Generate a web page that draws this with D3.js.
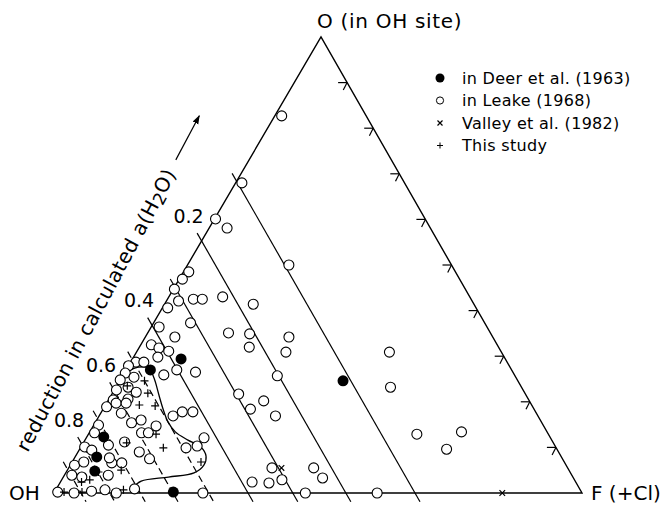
<!DOCTYPE html>
<html>
<head>
<meta charset="utf-8">
<script src="https://cdn.jsdelivr.net/npm/d3@7"></script>
<style>
  html, body { margin: 0; padding: 0; background: #fff; }
  svg text { font-family: "DejaVu Sans", sans-serif; fill: #000; }
</style>
</head>
<body>
<svg id="chart" width="664" height="509"></svg>
<script>
// ternary values as [F(+Cl) fraction, O fraction]; OH fraction = 1 - F - O
const leakeData = [
  [0.013, 0.827], [0.012, 0.680], [0.002, 0.601], [0.034, 0.581], [0.192, 0.500],
  [0.010, 0.485], [0.006, 0.469], [0.002, 0.447], [0.023, 0.421], [0.010, 0.406],
  [0.049, 0.425], [0.066, 0.425], [0.102, 0.430], [0.168, 0.414], [0.070, 0.373],
  [0.015, 0.364], [0.153, 0.351], [0.194, 0.349], [0.208, 0.320], [0.272, 0.342],
  [0.283, 0.309], [0.056, 0.342], [0.020, 0.325], [0.038, 0.318], [0.060, 0.311],
  [0.046, 0.298], [0.096, 0.270], [0.134, 0.265], [0.077, 0.259], [0.293, 0.257],
  [0.479, 0.309], [0.520, 0.232], [0.240, 0.217], [0.295, 0.202], [0.279, 0.184],
  [0.334, 0.169], [0.622, 0.129], [0.704, 0.134], [0.695, 0.096], [0.140, 0.169],
  [0.153, 0.178], [0.173, 0.178], [0.223, 0.121], [0.385, 0.055], [0.363, 0.024],
  [0.396, 0.022], [0.417, 0.029], [0.464, 0.055], [0.492, 0.033], [0.476, 0.000],
  [0.612, 0.000], [0.282, 0.000], [0.200, 0.099], [0.219, 0.103], [0.099, 0.132],
  [0.116, 0.090], [0.143, 0.075], [0.119, 0.147], [0.148, 0.009],
  [0.010, 0.287], [0.025, 0.287], [0.000, 0.279], [0.002, 0.263], [0.000, 0.248],
  [0.023, 0.254], [0.004, 0.226], [0.023, 0.232], [0.044, 0.221], [0.009, 0.204],
  [0.036, 0.206], [0.004, 0.189], [0.018, 0.197], [0.037, 0.197], [0.039, 0.175],
  [0.069, 0.154], [0.009, 0.149], [0.010, 0.132], [0.007, 0.101], [0.024, 0.094],
  [0.050, 0.105], [0.076, 0.066], [0.095, 0.066], [0.008, 0.061], [0.022, 0.068],
  [0.014, 0.039], [0.035, 0.035], [0.083, 0.039], [0.077, 0.112], [0.112, 0.132],
  [0.066, 0.077], [0.084, 0.160],
  [0.006, 0.002], [0.038, 0.000], [0.069, 0.004], [0.093, 0.007], [0.118, 0.000]
];
const deerData = [
  [0.046, 0.270], [0.092, 0.294], [0.423, 0.246], [0.225, 0.002],
  [0.032, 0.123], [0.041, 0.079], [0.053, 0.048]
];
const valleyData = [[0.403, 0.055], [0.849, 0.000]];
const thisStudyData = [
  [0.020, 0.235], [0.047, 0.246], [0.067, 0.219], [0.064, 0.193], [0.095, 0.191],
  [0.128, 0.129], [0.157, 0.099], [0.244, 0.068], [0.082, 0.110], [0.061, 0.046],
  [0.053, 0.029], [0.040, 0.024], [0.018, 0.002], [0.052, 0.002], [0.128, 0.007],
  [0.102, 0.050]
];
// hand drawn envelope round the samples of this study
const envelopeCurve = [
  [0.000, 0.252], [0.007, 0.268], [0.020, 0.276], [0.041, 0.274], [0.062, 0.252],
  [0.090, 0.215], [0.112, 0.186], [0.137, 0.156], [0.162, 0.134], [0.195, 0.116],
  [0.227, 0.101], [0.247, 0.081], [0.253, 0.061], [0.243, 0.044], [0.199, 0.035],
  [0.152, 0.026], [0.143, 0.011]
];
const waterActivity = [0.1, 0.2, 0.3, 0.4, 0.5, 0.6, 0.7, 0.8, 0.9];
const labelledActivity = [0.2, 0.4, 0.6, 0.8];
const edgeTicks = [0.1, 0.2, 0.3, 0.4, 0.5, 0.6, 0.7, 0.8, 0.9];
const legendKinds = ['deer', 'leake', 'valley', 'study'];
const legendLabels = ['in Deer et al. (1963)', 'in Leake (1968)', 'Valley et al. (1982)', 'This study'];

const svg = d3.select('#chart');

// skewed ternary frame: OH at bottom left, F at bottom right, O at top
const xBase = d3.scaleLinear().domain([0, 1]).range([54, 582]);
const xSkew = d3.scaleLinear().domain([0, 1]).range([0, 267]);
const yO = d3.scaleLinear().domain([0, 1]).range([493, 37]);
const proj = (f, o) => [xBase(f) + xSkew(o), yO(o)];

// a(H2O) isolines: OH fraction = sqrt(a), parallel to the O-F edge
const isolines = svg.append('g');
waterActivity.forEach(a => {
  const t = 1 - Math.sqrt(a);
  const p1 = proj(0, t);
  const p2 = proj(t, 0);
  const len = Math.hypot(p2[0] - p1[0], p2[1] - p1[1]);
  const ux = (p2[0] - p1[0]) / len, uy = (p2[1] - p1[1]) / len;
  isolines.append('line')
    .attr('x1', p1[0] - ux * 9).attr('y1', p1[1] - uy * 9)
    .attr('x2', p2[0] + ux * 10).attr('y2', p2[1] + uy * 10)
    .attr('stroke', '#000')
    .attr('stroke-width', 1.2)
    .attr('stroke-dasharray', a >= 0.5 ? '7,4' : null);
  if (labelledActivity.includes(a)) {
    svg.append('text')
      .attr('x', p1[0] + 2)
      .attr('y', p1[1] - 25)
      .attr('dy', '0.35em')
      .attr('text-anchor', 'end')
      .style('font-size', '19px')
      .text(d3.format('.1f')(a));
  }
});

// triangle
const corners = [proj(0, 0), proj(1, 0), proj(0, 1)];
svg.append('path')
  .attr('d', d3.line()(corners) + 'Z')
  .attr('fill', 'none')
  .attr('stroke', '#000')
  .attr('stroke-width', 1.4);

// ticks on the O-F edge
const ticks = svg.append('g').attr('stroke', '#000').attr('stroke-width', 1.2);
edgeTicks.forEach(k => {
  const p = proj(k, 1 - k);
  ticks.append('line').attr('x1', p[0] - 9).attr('y1', p[1]).attr('x2', p[0]).attr('y2', p[1]);
  ticks.append('line').attr('x1', p[0]).attr('y1', p[1]).attr('x2', p[0] - 3.8).attr('y2', p[1] + 7.5);
});

// envelope
svg.append('path')
  .datum(envelopeCurve)
  .attr('d', d3.line().x(d => proj(d[0], d[1])[0]).y(d => proj(d[0], d[1])[1]).curve(d3.curveCatmullRom))
  .attr('fill', 'none')
  .attr('stroke', '#000')
  .attr('stroke-width', 1.3);

const plusPath = s => `M${-s},0H${s}M0,${-s}V${s}`;
const crossPath = s => `M${-s},${-s}L${s},${s}M${-s},${s}L${s},${-s}`;

svg.append('g').selectAll('circle')
  .data(leakeData)
  .join('circle')
  .attr('cx', d => proj(d[0], d[1])[0])
  .attr('cy', d => proj(d[0], d[1])[1])
  .attr('r', 5)
  .attr('fill', '#fff')
  .attr('stroke', '#000')
  .attr('stroke-width', 1.1);

svg.append('g').selectAll('circle')
  .data(deerData)
  .join('circle')
  .attr('cx', d => proj(d[0], d[1])[0])
  .attr('cy', d => proj(d[0], d[1])[1])
  .attr('r', 5.5)
  .attr('fill', '#000');

svg.append('g').selectAll('path')
  .data(thisStudyData)
  .join('path')
  .attr('transform', d => `translate(${proj(d[0], d[1])})`)
  .attr('d', plusPath(4))
  .attr('stroke', '#000')
  .attr('stroke-width', 1.2);

svg.append('g').selectAll('path')
  .data(valleyData)
  .join('path')
  .attr('transform', d => `translate(${proj(d[0], d[1])})`)
  .attr('d', crossPath(2.8))
  .attr('stroke', '#000')
  .attr('stroke-width', 1.2);

// corner labels
svg.append('text').attr('x', 317).attr('y', 28).style('font-size', '20px').style('letter-spacing', '0.7px').text('O (in OH site)');
svg.append('text').attr('x', 9).attr('y', 500).style('font-size', '20px').text('OH');
svg.append('text').attr('x', 591).attr('y', 500).style('font-size', '20px').text('F (+Cl)');

// rotated axis title with arrow
svg.append('defs').append('marker')
  .attr('id', 'head')
  .attr('viewBox', '0 0 10 10')
  .attr('refX', 9).attr('refY', 5)
  .attr('markerWidth', 9).attr('markerHeight', 9)
  .attr('markerUnits', 'userSpaceOnUse')
  .attr('orient', 'auto')
  .append('path').attr('d', 'M0,1.5L10,5L0,8.5Z').attr('fill', '#000');

const title = svg.append('g').attr('transform', 'translate(96,310) rotate(-62)');
const tt = title.append('text')
  .attr('text-anchor', 'middle')
  .attr('dy', '0.35em')
  .style('font-size', '20px')
  .style('letter-spacing', '0.4px');
tt.append('tspan').text('reduction in calculated a(H');
tt.append('tspan').attr('dy', 3).style('font-size', '17px').text('2');
tt.append('tspan').attr('dy', -3).text('O)');
title.append('line')
  .attr('x1', 170).attr('y1', 0).attr('x2', 220).attr('y2', 0)
  .attr('stroke', '#000').attr('stroke-width', 1.2)
  .attr('marker-end', 'url(#head)');

// legend
const legend = svg.append('g').attr('transform', 'translate(440,78)');
legendKinds.forEach((kind, i) => {
  const row = legend.append('g').attr('transform', `translate(0,${i * 22.5})`);
  if (kind === 'deer') row.append('circle').attr('r', 4.5).attr('fill', '#000');
  if (kind === 'leake') row.append('circle').attr('r', 3.6).attr('fill', '#fff').attr('stroke', '#000').attr('stroke-width', 1);
  if (kind === 'valley') row.append('path').attr('d', crossPath(2.5)).attr('stroke', '#000').attr('stroke-width', 1.2);
  if (kind === 'study') row.append('path').attr('d', plusPath(3)).attr('stroke', '#000').attr('stroke-width', 1);
  row.append('text')
    .attr('x', 22)
    .attr('dy', '0.35em')
    .style('font-size', '16px')
    .style('letter-spacing', '0.3px')
    .text(legendLabels[i]);
});
</script>
</body>
</html>
